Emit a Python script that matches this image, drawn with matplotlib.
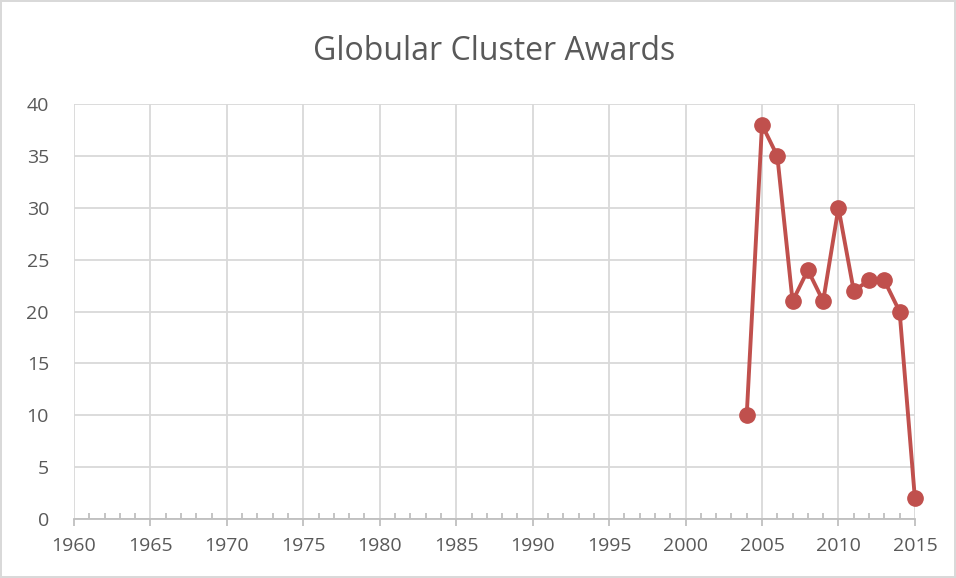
import matplotlib
matplotlib.use('Agg')
import matplotlib.pyplot as plt
from matplotlib.ticker import MultipleLocator

# Awards per year
years = [2004, 2005, 2006, 2007, 2008, 2009, 2010, 2011, 2012, 2013, 2014, 2015]
awards = [10, 38, 35, 21, 24, 21, 30, 22, 23, 23, 20, 2]

txt = '#595959'
grid = '#D9D9D9'
red = '#C0504D'

plt.rcParams['font.family'] = ['Open Sans', 'DejaVu Sans']

fig = plt.figure(figsize=(9.56, 5.78), dpi=100)
fig.patch.set_edgecolor('#D9D9D9')
fig.patch.set_linewidth(1.5)
ax = fig.add_axes([0.0774, 0.102, 0.8796, 0.718])

ax.plot(years, awards, color=red, linewidth=2.8, marker='o', markersize=11,
        markerfacecolor=red, markeredgecolor=red, clip_on=False, zorder=3)

ax.set_xlim(1960, 2015)
ax.set_ylim(0, 40)
ax.xaxis.set_major_locator(MultipleLocator(5))
ax.xaxis.set_minor_locator(MultipleLocator(1))
ax.yaxis.set_major_locator(MultipleLocator(5))

ax.grid(True, which='major', color=grid, linewidth=1.3)
ax.set_axisbelow(True)
for s in ['top', 'right', 'left']:
    ax.spines[s].set_visible(False)
ax.spines['bottom'].set_color('#BFBFBF')
ax.spines['bottom'].set_linewidth(1.3)

ax.tick_params(axis='x', which='major', direction='out', length=5, color='#BFBFBF',
               width=1.3, labelsize=14, labelcolor=txt, pad=8)
ax.tick_params(axis='x', which='minor', direction='in', length=4, color='#BFBFBF', width=1.3)
ax.tick_params(axis='y', length=0, labelsize=14, labelcolor=txt, pad=18)

ax.set_title('Globular Cluster Awards', fontsize=23, color=txt, pad=32)

fig.savefig('out.png', dpi=100)
